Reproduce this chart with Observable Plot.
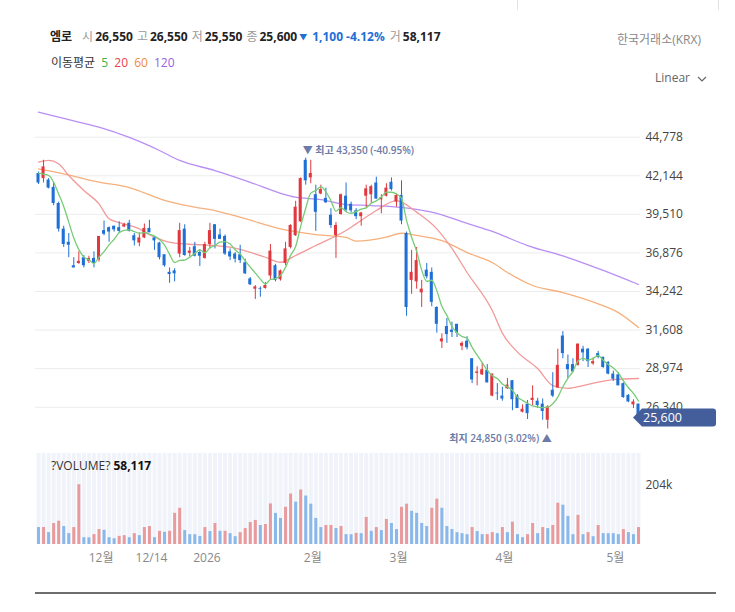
<!DOCTYPE html>
<html><head><meta charset="utf-8">
<script src="https://cdn.jsdelivr.net/npm/d3@7"></script>
<script src="https://cdn.jsdelivr.net/npm/@observablehq/plot@0.6"></script>
<style>
body{margin:0;background:#fff;font-family:"Open Sans","Noto Sans CJK KR",sans-serif;}
#root{position:relative;width:735px;height:612px;overflow:hidden;background:#fff;}
.abs{position:absolute;white-space:nowrap;line-height:16px;}
.lb{color:#9a9a9a;margin-right:2px;font-weight:normal;}
.v{color:#222;font-weight:bold;margin-right:4px;}
.dn{color:#1f6fd6;font-weight:bold;}
</style></head>
<body><div id="root">
<div class="abs" style="left:517px;top:0;width:1px;height:10px;background:#e2e2e2"></div>
<div class="abs" style="left:718px;top:0;width:1px;height:10px;background:#e2e2e2"></div>
<div class="abs" id="hdr" style="left:50px;top:28px;font-size:12px;"></div>
<div class="abs" style="left:617px;top:32px;font-size:12px;color:#888;">한국거래소(KRX)</div>
<div class="abs" id="maleg" style="left:51px;top:55px;font-size:12px;color:#333;"></div>
<div class="abs" style="left:655px;top:70px;font-size:12px;color:#666;">Linear <svg width="10" height="8" style="margin-left:4px;vertical-align:middle"><polyline points="1,2 5,6 9,2" fill="none" stroke="#666" stroke-width="1.2"/></svg></div>
<div class="abs" id="price" style="left:0;top:90px;"></div>
<div class="abs" id="vol" style="left:0;top:450px;"></div>
<div class="abs" id="vlab" style="left:51px;top:458px;font-size:12px;color:#333;"></div>
<div class="abs" style="left:35px;top:592px;width:681px;height:1.5px;background:#6e6e6e;"></div>
</div>
<script>
// ---- header data ----
const stockName = "엠로";
const dayOpen = 26550, dayHigh = 26550, dayLow = 25550, dayClose = 25600, dayChange = -1100, dayVolume = 58117;
const maPeriods = [5, 20, 60, 120];
const maColors = ["#3cb44b", "#e8404a", "#f08c3a", "#9a60e0"];
const lineColors = ["#77cc77", "#f29a9a", "#f6b07c", "#b88ef4"];

// ---- candles (index 0 = mid Nov 2025, last = current day) ----
const opens = [42300,41950,41850,41350,40250,38500,37600,36000,36150,36550,
36300,36500,36400,38400,38600,38700,38600,38650,38900,38050,
37550,37900,38550,37900,37550,36750,35550,35650,36800,38500,
36850,37300,36900,36500,37450,38800,38100,38000,36950,36800,
36750,36200,35100,34400,34450,34450,35300,36000,35050,36150,
37250,38050,39000,43200,42000,40850,40900,40600,39450,38050,
39500,40750,40200,39750,39350,40750,40850,41650,40500,40750,
41700,40350,40800,38200,35000,34900,34150,35700,35550,33150,
30800,31850,31600,32000,30500,30850,29650,28650,28550,28850,
27100,27300,27100,27600,28150,27100,26000,26550,26800,26750,
26550,25450,27500,27650,31200,29250,29250,29200,30300,30300,
29300,30000,29750,29400,28600,28550,27950,27150,26500,26550];
const highs = [42400,43200,41950,41700,40350,38700,38200,36550,36950,36700,
36650,36950,38000,39050,38650,38700,39000,38900,39100,38200,
38250,38850,39100,38000,37600,36750,35850,35800,38900,38800,
37250,37600,37100,37600,38900,38800,38500,38100,37150,36900,
37400,36450,35200,34650,34550,34850,37450,36100,35700,37600,
38800,40400,42000,43350,43200,41500,41500,41300,39900,38950,
40900,41650,40350,39900,39650,41500,41500,42050,40850,41600,
42000,40900,41800,38300,37050,37250,35000,36150,35850,33200,
31350,32400,32150,32000,30800,31150,29650,29100,29350,29250,
28600,27950,27700,28300,28150,27200,26500,26800,27800,26950,
26900,26450,28700,30300,31500,29900,29650,30650,30500,30350,
29700,30150,29750,29450,28800,28700,28000,27200,26850,26550];
const lows = [41550,41650,41250,40100,38300,37250,36550,35850,36100,35850,
36150,35850,36250,38050,37600,38300,38200,38600,38300,37350,
37300,37850,38250,37050,36400,35900,34800,34900,36550,36650,
36600,36600,35950,36450,37150,37150,37800,36700,36350,36200,
36150,35400,34650,33700,33850,34400,35000,34900,34950,36000,
37150,38000,38950,41500,41600,38350,40850,40250,38550,36500,
39450,39650,39600,39150,38700,39950,40250,40550,39550,40700,
41100,40000,38800,32550,34050,34400,33150,35100,33200,31400,
30350,30700,31100,31100,30200,30250,27950,27800,28500,28000,
27050,26800,26750,27550,26100,26250,25950,25500,26450,26250,
25450,24850,27000,27650,29650,28300,28700,29150,29450,29050,
29200,29650,29000,28550,28100,27800,26950,26650,26250,25550];
const closes = [41650,42750,41300,40250,38500,37450,37400,35850,36300,36000,
36500,36150,38000,38150,38300,38450,38350,38800,38350,37700,
37900,38550,38250,37700,36550,36000,35400,35450,38400,36700,
37000,36650,36650,37450,38400,37800,37800,36800,36600,36450,
36350,35450,34700,34550,34400,34650,37000,35000,35650,37150,
38750,40000,41950,41800,42300,39650,41200,40300,38750,38750,
40850,39800,39750,39350,39600,41250,41400,40550,40650,41300,
41200,40800,39050,33150,35550,36350,34400,35250,33500,32000,
31000,31300,31450,31400,30700,30400,28200,28750,28900,28000,
28600,27250,26900,27850,26850,26250,26200,25900,26950,26450,
26050,26350,27100,29200,30000,28900,28750,30650,30050,29450,
29450,29750,29050,28600,28250,27800,27000,26700,26700,25600];
const volumes = [58100,58300,40700,72000,80000,61600,37200,58100,205000,23300,
23000,33800,51200,48700,23300,19800,27800,30300,23300,37200,
30300,58100,61600,23300,45200,41800,45300,106800,124200,47700,
33800,33500,27800,58100,44200,72000,45200,45300,37200,26800,
40700,54600,75500,82500,65100,68600,139200,106800,89400,127700,
173000,145100,186900,166000,138200,89400,58100,65100,65200,54600,
61600,33800,33500,38300,37200,92900,45200,58100,47700,86000,
72000,51200,127700,138200,113800,106800,72000,61600,124200,155600,
124200,61600,51200,40700,37200,33800,58100,44200,33800,34000,
40700,37200,58100,40700,76600,33800,23300,33800,72000,37200,
58100,54600,65100,141600,134700,96400,33800,99900,33800,40700,
26800,65100,37200,37100,37000,33800,51200,40700,33800,58117];
// closes of the 4 sessions before the first visible candle (for MA5)
const priorCloses = [43080, 41760, 42520, 42580];

// ---- moving averages (candle index, value) ----
const ma20Idx = [0,2,4,6,9,12,14,17,20,22,27,31,35,38,45,48,51,55,61,63,67,71,72,75,79,82,85,90,92,95,99,102,105,108,114,119];
const ma20Val = [43070,43190,42960,42160,41140,40230,39210,38860,38520,38130,37540,37450,37380,37270,36580,36240,36700,37380,38410,38860,39770,40450,40340,39660,38520,37180,35540,32940,31400,30100,28980,27820,27620,27820,28230,28300];
const ma60Idx = [0,5,12,18,25,31,35,41,48,55,61,63,69,72,75,80,85,90,93,98,104,111,115,119];
const ma60Val = [42620,42280,41710,41340,40460,40000,39770,39210,38520,38130,37930,37680,37950,38220,38070,37720,36900,36220,35540,34650,34170,33400,32800,31780];
const ma120Idx = [0,5,12,18,24,28,35,42,48,51,56,61,66,72,79,85,90,97,105,112,119];
const ma120Val = [46490,46060,45460,44760,43870,43190,42500,41700,40950,40680,40520,40180,40110,39980,39570,38890,38340,37380,36560,35680,34720];

// ---- axis ticks ----
const yTicks = [26340,28974,31608,34242,36876,39510,42144,44778];
const volTicks = [204000];
const xTickIdx = [13,23,34,55,72,93,115];
const xTickLabels = ["12월","12/14","2026","2월","3월","4월","5월"];

// ---- build ----
const RED = "#e0383e", BLUE = "#1f70d6", VRED = "#e99a9c", VBLUE = "#8ab8ea";
const N = closes.length;
const candles = closes.map((c, i) => ({i, open: opens[i], high: highs[i], low: lows[i], close: c, vol: volumes[i]}));
const allCloses = priorCloses.concat(closes);
const ma5 = closes.map((c, i) => ({i, v: d3.mean(allCloses.slice(i, i + 5))}));
const zipMA = (ix, vs) => ix.map((i, k) => ({i, v: vs[k]}));
const ma20 = zipMA(ma20Idx, ma20Val), ma60 = zipMA(ma60Idx, ma60Val), ma120 = zipMA(ma120Idx, ma120Val);
const cColor = d => d.close > d.open ? RED : BLUE;
const vColor = d => (d.i > 0 && d.vol > volumes[d.i - 1]) ? VRED : VBLUE;
const loc = d3.formatLocale({decimal: ".", thousands: ",", grouping: [3], currency: ["", ""], minus: "-"});
const fmt = loc.format(",");
const f2 = loc.format(".2f");
const last = candles[N - 1];
const hiRow = candles.reduce((a, b) => b.high > a.high ? b : a);
const loRow = candles.reduce((a, b) => b.low < a.low ? b : a);
const pct = v => f2((last.close - v) / v * 100) + "%";
const font = "'Open Sans','Noto Sans CJK KR',sans-serif";

// header
const pctChg = f2(dayChange / (dayClose - dayChange) * 100);
document.getElementById("hdr").innerHTML =
  `<span class="v" style="margin-right:10px;font-family:'Noto Sans CJK KR'">${stockName}</span>` +
  `<span class="lb">시</span><span class="v">${fmt(dayOpen)}</span>` +
  `<span class="lb">고</span><span class="v">${fmt(dayHigh)}</span>` +
  `<span class="lb">저</span><span class="v">${fmt(dayLow)}</span>` +
  `<span class="lb">종</span><span class="v" style="margin-right:2px">${fmt(dayClose)}</span>` +
  `<span class="dn" style="font-size:8px;margin-right:5px;position:relative;top:-1px">▼</span><span class="dn" style="margin-right:3px">${fmt(Math.abs(dayChange))}</span><span class="dn" style="margin-right:5px">${pctChg}%</span>` +
  `<span class="lb">거</span><span class="v">${fmt(dayVolume)}</span>`;
document.getElementById("maleg").innerHTML = `이동평균 ` +
  maPeriods.map((p, k) => `<span style="color:${maColors[k]};margin-left:3px">${p}</span>`).join(" ");
document.getElementById("vlab").innerHTML = `?VOLUME? <b style="color:#111">${fmt(last.vol)}</b>`;

// price panel
const price = Plot.plot({
  width: 735, height: 355,
  marginLeft: 35, marginRight: 95, marginTop: 0, marginBottom: 0,
  style: {fontFamily: font, fontSize: "12px", background: "transparent", overflow: "visible"},
  x: {domain: [0, N - 1], range: [38, 638], axis: null},
  y: {domain: [23725, 47967], range: [355, 0]},
  marks: [
    Plot.gridY(yTicks, {stroke: "#ececec", strokeOpacity: 1}),
    Plot.axisY(yTicks, {anchor: "right", tickSize: 0, tickPadding: 5, tickFormat: fmt, fill: "#444", fontSize: 12, label: null}),
    Plot.line(ma120, {x: "i", y: "v", stroke: lineColors[3], strokeWidth: 1.3, curve: "monotone-x"}),
    Plot.line(ma60, {x: "i", y: "v", stroke: lineColors[2], strokeWidth: 1.3, curve: "monotone-x"}),
    Plot.line(ma20, {x: "i", y: "v", stroke: lineColors[1], strokeWidth: 1.3, curve: "monotone-x"}),
    Plot.ruleX(candles, {x: "i", y1: "low", y2: "high", stroke: cColor, strokeWidth: 1}),
    Plot.rect(candles, {x1: d => d.i - 0.3, x2: d => d.i + 0.3, y1: "open", y2: "close", fill: cColor}),
    Plot.line(ma5, {x: "i", y: "v", stroke: lineColors[0], strokeWidth: 1.3, curve: "monotone-x"}),
    Plot.text([hiRow], {x: "i", y: "high", text: d => `▼ 최고 ${fmt(d.high)} (${pct(d.high)})`, textAnchor: "start", dx: -3, dy: -7, fill: "#6b7aa6", fontSize: 10, fontWeight: 600}),
    Plot.text([loRow], {x: "i", y: "low", text: d => `최지 ${fmt(d.low)} (${pct(d.low)}) ▲`, textAnchor: "end", dx: 4, dy: 10, fill: "#6b7aa6", fontSize: 10, fontWeight: 600})
  ]
});
document.getElementById("price").appendChild(price);
{
  const yy = price.scale("y").apply(last.close);
  const x0 = price.scale("x").apply(last.i) - 5, x1 = 716;
  const g = d3.select(price).append("g");
  g.append("path").attr("fill", "#435e9b")
    .attr("d", `M${x0},${yy} L${x0 + 9},${yy - 9} H${x1 - 3} Q${x1},${yy - 9} ${x1},${yy - 6} V${yy + 6} Q${x1},${yy + 9} ${x1 - 3},${yy + 9} H${x0 + 9} Z`);
  g.append("text").attr("x", x0 + 10).attr("y", yy).attr("dy", "0.35em")
    .attr("text-anchor", "start").attr("fill", "#fff").attr("font-size", 12.5).text(fmt(last.close));
}

// volume panel
const vol = Plot.plot({
  width: 735, height: 120,
  marginLeft: 35, marginRight: 95, marginTop: 3, marginBottom: 26,
  style: {fontFamily: font, fontSize: "12px", background: "transparent", overflow: "visible"},
  x: {domain: [0, N - 1], range: [38, 638]},
  y: {domain: [0, 204000], range: [94, 34.5]},
  marks: [
    Plot.ruleX(candles, {x: "i", stroke: "#f0f3f9", strokeWidth: 4}),
    Plot.ruleX(candles, {x: "i", y1: 0, y2: "vol", stroke: vColor, strokeWidth: 3}),
    Plot.axisY(volTicks, {anchor: "right", tickSize: 0, tickPadding: 5, tickFormat: d => Math.round(d / 1000) + "k", fill: "#444", fontSize: 12, label: null}),
    Plot.axisX(xTickIdx, {anchor: "bottom", tickSize: 0, tickPadding: 9, dx: -3, tickFormat: d => xTickLabels[xTickIdx.indexOf(d)], fill: "#888", fontSize: 12, label: null})
  ]
});
document.getElementById("vol").appendChild(vol);
</script>
</body></html>
